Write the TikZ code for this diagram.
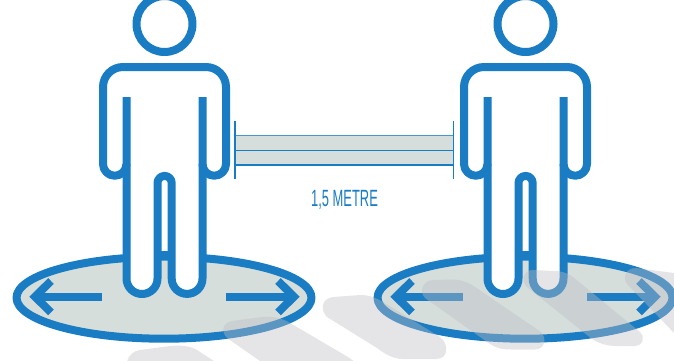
\documentclass[tikz,border=0pt]{standalone}
\usepackage{fontspec}
\setmainfont{Liberation Sans}
\definecolor{pblue}{HTML}{1A7CC2}
\definecolor{pfill}{HTML}{D5DEDB}
\definecolor{pshade}{RGB}{190,190,197}
\tikzset{
  stroke8/.style={draw=pblue,line width=8pt,line join=round},
  shade stripe/.style={fill=pshade,fill opacity=.40},
  hairline/.style={draw=pblue,line width=1.1pt},
  person/.pic={
    \draw[stroke8,fill=pfill] (164,-297.7) ellipse [x radius=147.5,y radius=41];
    \draw[stroke8,fill=white] (164.5,-24) circle [radius=28];
    \fill[white] (103,-87) arc[start angle=180,end angle=90,radius=20] -- (206,-67)
      arc[start angle=90,end angle=0,radius=20] -- (226,-164)
      arc[start angle=0,end angle=-180,radius=11.75] -- (202.5,-255) -- (126.5,-255) -- (126.5,-164)
      arc[start angle=0,end angle=-180,radius=11.75] -- cycle;
    \fill[white] (126.5,-250) -- (126.5,-278.5)
      arc[start angle=180,end angle=360,radius=15.5] -- (157.5,-250) -- cycle;
    \fill[white] (171.7,-250) -- (171.7,-278.5)
      arc[start angle=180,end angle=360,radius=15.4] -- (202.5,-250) -- cycle;
    \draw[draw=pblue,line width=8pt] (157.5,-255) -- (171.7,-255);
    \draw[stroke8,line cap=butt] (126.5,-97) -- (126.5,-164)
      arc[start angle=0,end angle=-180,radius=11.75] -- (103,-87)
      arc[start angle=180,end angle=90,radius=20] -- (206,-67)
      arc[start angle=90,end angle=0,radius=20] -- (226,-164)
      arc[start angle=0,end angle=-180,radius=11.75] -- (202.5,-97);
    \draw[stroke8,line cap=butt] (126.5,-164) -- (126.5,-278.5)
      arc[start angle=180,end angle=360,radius=15.5] -- (157.5,-183)
      arc[start angle=180,end angle=0,radius=7.1] -- (171.7,-278.5)
      arc[start angle=180,end angle=360,radius=15.4] -- (202.5,-164);
    \draw[draw=pblue,line width=8pt,line join=miter] (102,-296.7) -- (35,-296.7);
    \draw[draw=pblue,line width=8pt,line join=miter] (51,-281) -- (35,-296.7) -- (51,-312.4);
    \draw[draw=pblue,line width=8pt,line join=miter] (226,-296.7) -- (294,-296.7);
    \draw[draw=pblue,line width=8pt,line join=miter] (278,-281) -- (294,-296.7) -- (278,-312.4);
  }
}
\begin{document}
\begin{tikzpicture}[x=1pt,y=1pt]
\useasboundingbox (0,0) rectangle (674,-360);
\begin{scope}
\clip (0,0) rectangle (674,-360);
\pic at (0,0) {person};
\pic at (361,0) {person};
\fill[pfill] (235,-135.7) rectangle (453.7,-165);
\draw[draw=pblue!80!white,line width=1.5pt] (235,-135.7) -- (453.7,-135.7);
\draw[hairline] (235,-150.7) -- (453.7,-150.7);
\draw[hairline] (235,-165) -- (453.7,-165);
\coordinate (tickA) at (235,-121);
\coordinate (tickB) at (235,-179.3);
\coordinate (tickC) at (453.7,-121);
\coordinate (tickD) at (453.7,-179.3);
\draw[hairline] (tickA) -- (tickB);
\draw[hairline] (tickC) -- (tickD);
\node[text=pblue,inner sep=0pt,anchor=center,xscale=.55,font=\fontsize{23.5}{24}\selectfont] (label) at (344.5,-200) {1,5 METRE};
% S1
\fill[shade stripe] (127,-362) .. controls (129,-354) and (134,-351) .. (140,-350) -- (170,-346)
  .. controls (182,-345) and (190,-346) .. (197,-350) -- (240,-378) -- (150,-378) -- cycle;
% S2
\fill[shade stripe] (227,-338) .. controls (221,-332) and (222,-323) .. (232,-321) -- (262,-317)
  .. controls (272,-316) and (282,-318) .. (290,-323) -- (348,-357) -- (380,-380) -- (290,-382) -- cycle;
% S3
\fill[shade stripe] (327,-317) .. controls (321,-311) and (320,-299) .. (333,-297) -- (360,-295)
  .. controls (370,-295) and (376,-298) .. (383,-302) -- (440,-337)
  .. controls (449,-344) and (449,-359) .. (436,-359) -- (403,-359)
  .. controls (393,-359) and (385,-354) .. (377,-348) -- cycle;
% S4
\fill[shade stripe] (425,-298) -- (490,-344) .. controls (498,-349) and (503,-349.5) .. (512,-349.5)
  -- (535,-349.5) .. controls (545,-349.5) and (547,-338) .. (541,-332) -- (478,-289)
  .. controls (470,-283) and (462,-279.5) .. (452,-279.5) -- (433,-280)
  .. controls (422,-281) and (419,-292) .. (425,-298) -- cycle;
% S5
\fill[shade stripe] (527,-287) -- (592,-339) .. controls (600,-344) and (608,-346) .. (617,-346)
  -- (634,-346) .. controls (644,-346) and (645,-336) .. (640,-332) -- (573,-277)
  .. controls (566,-272) and (560,-271) .. (553,-271) -- (533,-270)
  .. controls (523,-270) and (521,-281) .. (527,-287) -- cycle;
% S6
\fill[shade stripe] (628,-285) -- (700,-360) -- (740,-340) -- (690,-278) -- (674,-273)
  -- (636,-268) .. controls (625,-268) and (622,-279) .. (628,-285) -- cycle;
\end{scope}
\end{tikzpicture}
\end{document}
